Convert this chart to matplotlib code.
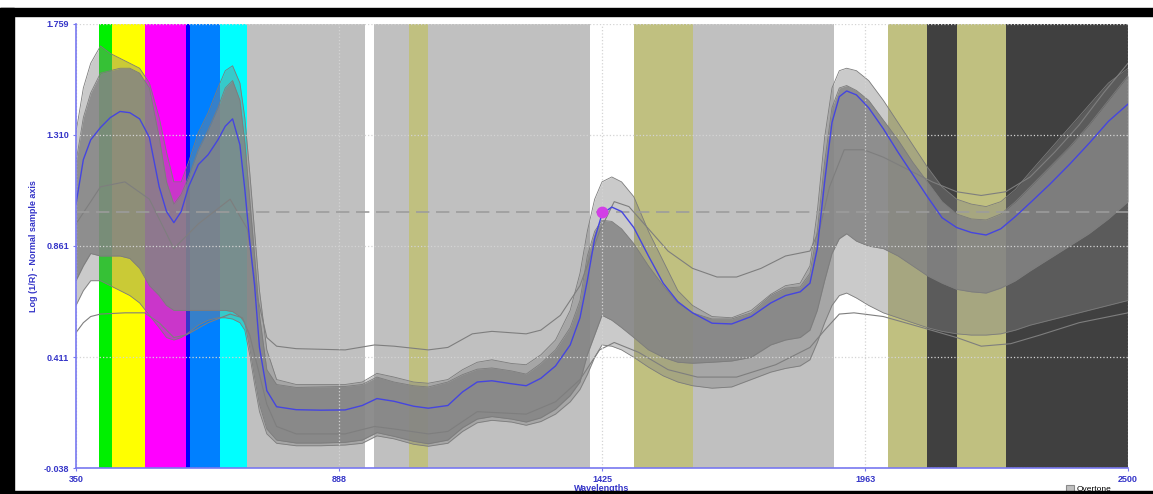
import matplotlib
matplotlib.use('Agg')
import matplotlib.pyplot as plt
from matplotlib.patches import Rectangle, Patch

plt.rcParams['font.family'] = ['Liberation Sans', 'DejaVu Sans']

# ---------------- data ----------------
XTICKS = [350, 888, 1425, 1963, 2500]
YTICKS = [-0.038, 0.411, 0.861, 1.310, 1.759]
YTICK_LABELS = ['-0.038', '0.411', '0.861', '1.310', '1.759']

BAND_EDGES = [397, 424, 490, 575, 584, 645, 700, 940, 960, 1030, 1070,
              1400, 1490, 1610, 1900, 2010, 2090, 2150, 2250, 2500]
BAND_COLORS = ['#00F000', '#FFFF00', '#FF00FF', '#0000FF', '#0080FF', '#00FFFF',
               '#C0C0C0', '#FFFFFF', '#C0C0C0', '#C0C080', '#C0C0C0',
               '#FFFFFF', '#C0C080', '#C0C0C0', '#FFFFFF', '#C0C080',
               '#404040', '#C0C080', '#404040']

WL = [350, 365, 380, 400, 420, 440, 460, 480, 500, 520,
      535, 550, 565, 580, 600, 620, 640, 655, 670, 685,
      695, 705, 715, 725, 740, 760, 800, 850, 900, 935,
      965, 1000, 1040, 1070, 1110, 1140, 1170, 1200, 1240, 1270,
      1300, 1330, 1360, 1380, 1395, 1410, 1425, 1445, 1465, 1490,
      1520, 1550, 1580, 1610, 1650, 1690, 1730, 1770, 1800, 1830,
      1850, 1865, 1880, 1895, 1910, 1925, 1945, 1970, 2000, 2030,
      2060, 2090, 2120, 2150, 2180, 2210, 2240, 2270, 2300, 2340,
      2380, 2420, 2460, 2500]

MEAN = [1.03, 1.21, 1.29, 1.34, 1.38, 1.405, 1.40, 1.375, 1.30, 1.10,
        1.00, 0.955, 1.00, 1.10, 1.19, 1.23, 1.29, 1.345, 1.375, 1.27,
        1.09, 0.88, 0.70, 0.45, 0.275, 0.21, 0.198, 0.196, 0.197, 0.215,
        0.243, 0.232, 0.212, 0.204, 0.215, 0.27, 0.31, 0.315, 0.303, 0.295,
        0.325, 0.375, 0.46, 0.57, 0.72, 0.89, 0.99, 1.018, 1.00, 0.935,
        0.82, 0.71, 0.635, 0.59, 0.548, 0.545, 0.575, 0.63, 0.66, 0.675,
        0.71, 0.85, 1.12, 1.36, 1.465, 1.488, 1.472, 1.42, 1.335, 1.24,
        1.15, 1.06, 0.975, 0.935, 0.915, 0.905, 0.93, 0.98, 1.035, 1.11,
        1.19, 1.275, 1.365, 1.435]

# dense core of the sample spectra
CORE_HI = [1.20, 1.38, 1.48, 1.56, 1.57, 1.58, 1.58, 1.56, 1.50, 1.30,
           1.12, 1.03, 1.07, 1.14, 1.25, 1.33, 1.42, 1.50, 1.53, 1.45,
           1.28, 1.05, 0.82, 0.58, 0.36, 0.30, 0.288, 0.29, 0.292, 0.30,
           0.33, 0.31, 0.295, 0.29, 0.31, 0.34, 0.362, 0.367, 0.355, 0.342,
           0.385, 0.44, 0.53, 0.64, 0.82, 0.92, 0.965, 0.96, 0.93, 0.87,
           0.78, 0.70, 0.63, 0.59, 0.565, 0.565, 0.59, 0.66, 0.69, 0.695,
           0.75, 0.92, 1.20, 1.42, 1.50, 1.51, 1.49, 1.45, 1.37, 1.29,
           1.20, 1.12, 1.04, 0.99, 0.97, 0.966, 0.99, 1.04, 1.10, 1.18,
           1.26, 1.35, 1.45, 1.55]
CORE_LO = [0.72, 0.78, 0.83, 0.82, 0.82, 0.82, 0.81, 0.77, 0.70, 0.66,
           0.62, 0.60, 0.60, 0.60, 0.60, 0.60, 0.60, 0.60, 0.595, 0.575,
           0.55, 0.45, 0.33, 0.22, 0.12, 0.075, 0.063, 0.063, 0.066, 0.075,
           0.105, 0.09, 0.07, 0.06, 0.075, 0.125, 0.16, 0.17, 0.16, 0.148,
           0.165, 0.20, 0.255, 0.31, 0.42, 0.50, 0.58, 0.56, 0.53, 0.49,
           0.44, 0.41, 0.39, 0.386, 0.39, 0.395, 0.41, 0.46, 0.48, 0.49,
           0.52, 0.60, 0.72, 0.83, 0.89, 0.91, 0.88, 0.86, 0.85, 0.82,
           0.78, 0.74, 0.71, 0.685, 0.675, 0.67, 0.69, 0.72, 0.76, 0.81,
           0.86, 0.91, 0.97, 1.04]

# sparse outer spread of the sample spectra
SPREAD_HI = [1.32, 1.50, 1.60, 1.67, 1.64, 1.62, 1.60, 1.58, 1.52, 1.38,
             1.24, 1.12, 1.12, 1.20, 1.32, 1.40, 1.50, 1.57, 1.59, 1.52,
             1.38, 1.16, 0.92, 0.68, 0.44, 0.32, 0.30, 0.30, 0.30, 0.31,
             0.345, 0.33, 0.31, 0.305, 0.32, 0.36, 0.39, 0.40, 0.385, 0.38,
             0.42, 0.48, 0.60, 0.75, 0.92, 1.05, 1.12, 1.14, 1.12, 1.06,
             0.92, 0.80, 0.68, 0.62, 0.575, 0.57, 0.60, 0.665, 0.70, 0.71,
             0.78, 1.00, 1.30, 1.50, 1.57, 1.58, 1.57, 1.53, 1.45, 1.36,
             1.27, 1.18, 1.10, 1.05, 1.03, 1.02, 1.04, 1.09, 1.16, 1.25,
             1.34, 1.43, 1.52, 1.58]
SPREAD_LO = [0.62, 0.68, 0.72, 0.72, 0.70, 0.68, 0.66, 0.63, 0.58, 0.53,
             0.49, 0.48, 0.49, 0.51, 0.54, 0.56, 0.57, 0.57, 0.565, 0.55,
             0.52, 0.42, 0.30, 0.19, 0.10, 0.062, 0.052, 0.052, 0.055, 0.062,
             0.092, 0.08, 0.058, 0.05, 0.062, 0.11, 0.145, 0.155, 0.148, 0.135,
             0.15, 0.18, 0.23, 0.28, 0.34, 0.41, 0.46, 0.455, 0.44, 0.41,
             0.37, 0.335, 0.31, 0.295, 0.285, 0.29, 0.32, 0.35, 0.365, 0.375,
             0.40, 0.47, 0.55, 0.62, 0.66, 0.67, 0.65, 0.62, 0.59, 0.57,
             0.55, 0.53, 0.515, 0.505, 0.50, 0.50, 0.505, 0.52, 0.54, 0.56,
             0.58, 0.60, 0.62, 0.64]

# two individual outlying spectra
OUT_A_WL = [350, 400, 450, 500, 550, 600, 665, 700, 720, 740, 760, 800, 900, 960,
            1000, 1070, 1110, 1160, 1200, 1270, 1300, 1340, 1380, 1420, 1450, 1480,
            1520, 1560, 1610, 1660, 1700, 1750, 1800, 1850, 1870, 1890, 1920, 1960,
            2000, 2050, 2100, 2150, 2200, 2250, 2300, 2350, 2400, 2450, 2500]
OUT_A = [0.95, 1.10, 1.12, 1.05, 0.85, 0.95, 1.05, 0.93, 0.66, 0.49, 0.455, 0.445,
         0.44, 0.46, 0.455, 0.44, 0.45, 0.505, 0.515, 0.505, 0.52, 0.58, 0.70, 0.92,
         1.04, 1.02, 0.93, 0.84, 0.77, 0.735, 0.735, 0.77, 0.82, 0.84, 0.93, 1.10,
         1.25, 1.25, 1.22, 1.17, 1.12, 1.08, 1.065, 1.08, 1.14, 1.24, 1.35, 1.48, 1.60]
OUT_C_WL = [350, 365, 380, 400, 450, 490, 520, 550, 575, 620, 665, 690, 705, 720,
            740, 760, 800, 900, 960, 1000, 1070, 1110, 1170, 1270, 1330, 1380, 1420,
            1450, 1500, 1560, 1620, 1700, 1780, 1850, 1880, 1910, 1940, 2000, 2080,
            2150, 2200, 2260, 2320, 2400, 2500]
OUT_C = [0.51, 0.55, 0.575, 0.585, 0.59, 0.59, 0.55, 0.49, 0.50, 0.55, 0.585, 0.57,
         0.50, 0.38, 0.22, 0.13, 0.10, 0.10, 0.13, 0.12, 0.10, 0.11, 0.19, 0.18, 0.23,
         0.32, 0.44, 0.47, 0.43, 0.36, 0.33, 0.33, 0.38, 0.45, 0.52, 0.585, 0.59,
         0.575, 0.53, 0.49, 0.455, 0.465, 0.50, 0.55, 0.59]

REF_WL = 1425
REF_LEVEL = 0.998

# ---------------- figure ----------------
W, H = 1153, 494
fig = plt.figure(figsize=(W / 100, H / 100), dpi=100)
fig.patch.set_facecolor('white')
ax = fig.add_axes([76 / W, 1 - 468 / H, (1128 - 76) / W, (468 - 24) / H])
ax.set_facecolor('white')

for x0, x1, c in zip(BAND_EDGES[:-1], BAND_EDGES[1:], BAND_COLORS):
    ax.axvspan(x0, x1, color=c, lw=0, zorder=0.5)

ax.fill_between(WL, SPREAD_LO, SPREAD_HI, color='#828282', alpha=0.42, lw=0, zorder=1)
ax.fill_between(WL, CORE_LO, CORE_HI, color='#848484', alpha=0.85, lw=0, zorder=1.2)
for arr in (SPREAD_LO, SPREAD_HI, CORE_LO, CORE_HI):
    ax.plot(WL, arr, color='#7c7c7c', lw=0.6, zorder=1.4)
ax.plot(OUT_A_WL, OUT_A, color='#7e7e7e', lw=0.8, zorder=1.5)
ax.plot(OUT_C_WL, OUT_C, color='#7e7e7e', lw=0.8, zorder=1.5)

ax.plot(WL, MEAN, color='#4545E0', lw=1.0, zorder=3)
ax.axhline(REF_LEVEL, color='#9c9c9c', lw=1.2, ls=(0, (8, 4)), zorder=2.7)
ax.plot([REF_WL], [REF_LEVEL], 'o', color='#D23FE6', ms=7.5, mec='#D23FE6', zorder=4)

ax.set_xlim(350, 2500)
ax.set_ylim(-0.038, 1.759)
ax.set_xticks(XTICKS)
ax.set_xticklabels([str(v) for v in XTICKS])
ax.set_yticks(YTICKS)
ax.set_yticklabels(YTICK_LABELS)
ax.set_axisbelow(False)
ax.grid(True, ls=':', color='#d4d4d4', lw=0.9)

blue_txt = '#3535C8'
ax.tick_params(axis='both', colors='#7878F0', labelcolor=blue_txt, length=2,
               labelsize=6.5, pad=3)
for lab in ax.get_xticklabels() + ax.get_yticklabels():
    lab.set_fontweight('bold')
for s in ('top', 'right'):
    ax.spines[s].set_visible(False)
for s in ('left', 'bottom'):
    ax.spines[s].set_color('#7878F0')
    ax.spines[s].set_linewidth(1.2)
    ax.spines[s].set_zorder(5)

ax.set_ylabel('Log (1/R) - Normal sample axis', fontsize=6.5, fontweight='bold',
              color=blue_txt)
ax.yaxis.set_label_coords((38 - 76) / 1052, 0.5)
ax.set_xlabel('Wavelengths', fontsize=6.5, fontweight='bold', color=blue_txt)
ax.xaxis.set_label_coords(0.5, (468 - 484) / 444)

fig.legend(handles=[Patch(facecolor='#C0C0C0', edgecolor='#8a8a8a', lw=0.8,
                          label='Overtone')],
           loc='center left', bbox_to_anchor=(1066 / W, 1 - 489 / H),
           frameon=False, fontsize=6, handlelength=0.9, handleheight=0.9,
           handletextpad=0.4, borderpad=0, borderaxespad=0)

# window frame
fig.add_artist(Rectangle((0, 0), 14 / W, 1 - 8 / H, transform=fig.transFigure,
                         color='black', zorder=10))
fig.add_artist(Rectangle((0, 1 - 16 / H), 1, 8 / H, transform=fig.transFigure,
                         color='black', zorder=10))
fig.add_artist(Rectangle((0, 0), 1, 3 / H, transform=fig.transFigure,
                         color='black', zorder=10))

fig.savefig('out.png', dpi=100)
